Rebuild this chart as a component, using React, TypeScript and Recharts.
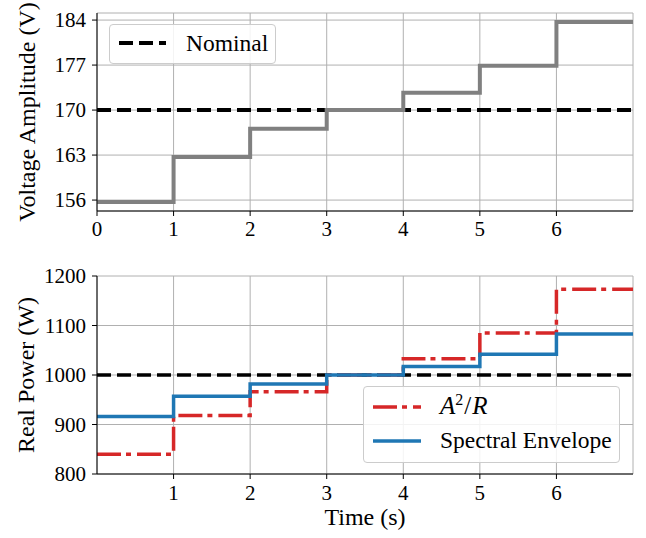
import React from 'react';
import { LineChart, Line, XAxis, YAxis, CartesianGrid, Legend } from 'recharts';

// ---------- data ----------
const timeSteps = [0, 1, 2, 3, 4, 5, 6, 7];
const voltageLevels = [155.7, 162.7, 167.1, 170.0, 172.7, 176.9, 183.7];
const voltageNominal = 170;
const voltageTicks = [156, 163, 170, 177, 184];
const topTimeTicks = [0, 1, 2, 3, 4, 5, 6];

const powerA2R = [840, 918, 966, 1000, 1033, 1085, 1173];
const powerSpectral = [916, 957, 982, 1000, 1017, 1042, 1083];
const powerNominal = 1000;
const powerTicks = [800, 900, 1000, 1100, 1200];
const bottomTimeTicks = [1, 2, 3, 4, 5, 6];

const level = (arr: number[], i: number) => arr[Math.min(i, arr.length - 1)];
const voltageData = timeSteps.map((t, i) => ({ t, v: level(voltageLevels, i), nom: voltageNominal }));
const powerData = timeSteps.map((t, i) => ({
  t,
  a2r: level(powerA2R, i),
  spec: level(powerSpectral, i),
  nom: powerNominal,
}));

const vMin = Math.min(...voltageLevels);
const vMax = Math.max(...voltageLevels);
const vPad = 0.05 * (vMax - vMin);
const voltageDomain = [vMin - vPad, vMax + vPad];

// ---------- styles ----------
const FONT = 'Liberation Serif';
const GRAY = '#808080';
const RED = '#d62728';
const BLUE = '#1f77b4';
const TICK_SIZE = 21;
const LABEL_SIZE = 24;

const XTick = (props: any) => {
  const { x, y, payload } = props;
  return (
    <text x={x} y={y} dy={0.71 * TICK_SIZE} textAnchor="middle" fontFamily={FONT} fontSize={TICK_SIZE} fill="#000">
      {payload.value}
    </text>
  );
};

const YTick = (props: any) => {
  const { x, y, payload } = props;
  return (
    <text x={x} y={y} dy={0.34 * TICK_SIZE} textAnchor="end" fontFamily={FONT} fontSize={TICK_SIZE} fill="#000">
      {payload.value}
    </text>
  );
};

const yLabel = (text: string, cx: number) => (props: any) => {
  const vb = props.viewBox || {};
  const cy = vb.y + vb.height / 2;
  return (
    <text
      x={cx}
      y={cy}
      transform={`rotate(-90, ${cx}, ${cy})`}
      textAnchor="middle"
      dominantBaseline="central"
      fontFamily={FONT}
      fontSize={LABEL_SIZE}
      fill="#000"
    >
      {text}
    </text>
  );
};

const xLabel = (text: string) => (props: any) => {
  const vb = props.viewBox || {};
  const cx = vb.x + vb.width / 2;
  const cy = vb.y + 43;
  return (
    <text x={cx} y={cy} textAnchor="middle" dominantBaseline="central" fontFamily={FONT} fontSize={LABEL_SIZE} fill="#000">
      {text}
    </text>
  );
};

const legendBox: React.CSSProperties = {
  position: 'relative',
  width: '100%',
  height: '100%',
  boxSizing: 'border-box',
  background: 'rgba(255,255,255,0.85)',
  border: '1px solid #cccccc',
  borderRadius: 4,
  fontFamily: FONT,
  fontSize: 23.5,
  color: '#000',
  whiteSpace: 'nowrap',
};

const TopLegend = () => (
  <div style={legendBox}>
    <svg style={{ position: 'absolute', left: 0, top: 0 }} width={70} height={40}>
      <line x1={9} x2={56} y1={18} y2={18} stroke="#000" strokeWidth={4} strokeDasharray="14 6" />
    </svg>
    <span style={{ position: 'absolute', left: 76, top: 3, lineHeight: '30px' }}>Nominal</span>
  </div>
);

const BottomLegend = () => (
  <div style={legendBox}>
    <svg style={{ position: 'absolute', left: 0, top: 0 }} width={70} height={77}>
      <line x1={9} x2={57} y1={20} y2={20} stroke={RED} strokeWidth={3.5} strokeDasharray="24 5 5 6" />
      <line x1={9} x2={57} y1={54} y2={54} stroke={BLUE} strokeWidth={3.5} />
    </svg>
    <span style={{ position: 'absolute', left: 76, top: 4, lineHeight: '30px', fontSize: 25 }}>
      <i>A</i>
      <sup style={{ fontSize: 16, lineHeight: 0 }}>2</sup>
      <span style={{ margin: '0 1px' }}>/</span>
      <i>R</i>
    </span>
    <span style={{ position: 'absolute', left: 76, top: 38, lineHeight: '30px' }}>Spectral Envelope</span>
  </div>
);

export default function App() {
  return (
    <div style={{ position: 'absolute', left: 0, top: 0, width: 646, height: 538, background: '#fff' }}>
      <div style={{ position: 'absolute', left: 0, top: 0 }}>
        <LineChart width={646} height={250} data={voltageData} margin={{ top: 13, right: 13, bottom: 9, left: 35 }}>
          <CartesianGrid stroke="#b0b0b0" strokeWidth={1} />
          <XAxis
            dataKey="t"
            type="number"
            domain={[0, 7]}
            ticks={topTimeTicks}
            allowDataOverflow
            tick={<XTick />}
            tickSize={5}
            tickMargin={5}
            stroke="#000"
            height={30}
          />
          <YAxis
            type="number"
            domain={voltageDomain}
            ticks={voltageTicks}
            allowDataOverflow
            tick={<YTick />}
            tickSize={5}
            tickMargin={6}
            stroke="#000"
            width={62}
            label={yLabel('Voltage Amplitude (V)', 27)}
          />
          <XAxis xAxisId="top" orientation="top" type="number" domain={[0, 7]} tick={false} tickLine={false} height={0} stroke="#000" />
          <YAxis yAxisId="right" orientation="right" type="number" domain={[0, 1]} tick={false} tickLine={false} width={0} stroke="#000" />
          <Legend
            layout="horizontal"
            verticalAlign="middle"
            align="center"
            wrapperStyle={{ position: 'absolute', left: 109, top: 24, width: 167, height: 40 }}
            content={() => <TopLegend />}
          />
          <Line dataKey="nom" type="linear" stroke="#000" strokeWidth={4} strokeDasharray="14 6" dot={false} activeDot={false} isAnimationActive={false} />
          <Line dataKey="v" type="stepAfter" stroke={GRAY} strokeWidth={4} dot={false} activeDot={false} isAnimationActive={false} />
        </LineChart>
      </div>
      <div style={{ position: 'absolute', left: 0, top: 250 }}>
        <LineChart width={646} height={288} data={powerData} margin={{ top: 26, right: 13, bottom: 10, left: 35 }}>
          <CartesianGrid stroke="#b0b0b0" strokeWidth={1} />
          <XAxis
            dataKey="t"
            type="number"
            domain={[0, 7]}
            ticks={bottomTimeTicks}
            allowDataOverflow
            tick={<XTick />}
            tickSize={5}
            tickMargin={6}
            stroke="#000"
            height={54}
            label={xLabel('Time (s)')}
          />
          <YAxis
            type="number"
            domain={[800, 1200]}
            ticks={powerTicks}
            allowDataOverflow
            tick={<YTick />}
            tickSize={5}
            tickMargin={6}
            stroke="#000"
            width={62}
            label={yLabel('Real Power (W)', 26)}
          />
          <XAxis xAxisId="top" orientation="top" type="number" domain={[0, 7]} tick={false} tickLine={false} height={0} stroke="#000" />
          <YAxis yAxisId="right" orientation="right" type="number" domain={[0, 1]} tick={false} tickLine={false} width={0} stroke="#000" />
          <Legend
            layout="horizontal"
            verticalAlign="middle"
            align="center"
            wrapperStyle={{ position: 'absolute', left: 363, top: 136, width: 257, height: 77 }}
            content={() => <BottomLegend />}
          />
          <Line dataKey="nom" type="linear" stroke="#000" strokeWidth={3.5} strokeDasharray="14 6" dot={false} activeDot={false} isAnimationActive={false} />
          <Line dataKey="a2r" type="stepAfter" stroke={RED} strokeWidth={3.5} strokeDasharray="24 5 5 6" dot={false} activeDot={false} isAnimationActive={false} />
          <Line dataKey="spec" type="stepAfter" stroke={BLUE} strokeWidth={3.5} dot={false} activeDot={false} isAnimationActive={false} />
        </LineChart>
      </div>
    </div>
  );
}
